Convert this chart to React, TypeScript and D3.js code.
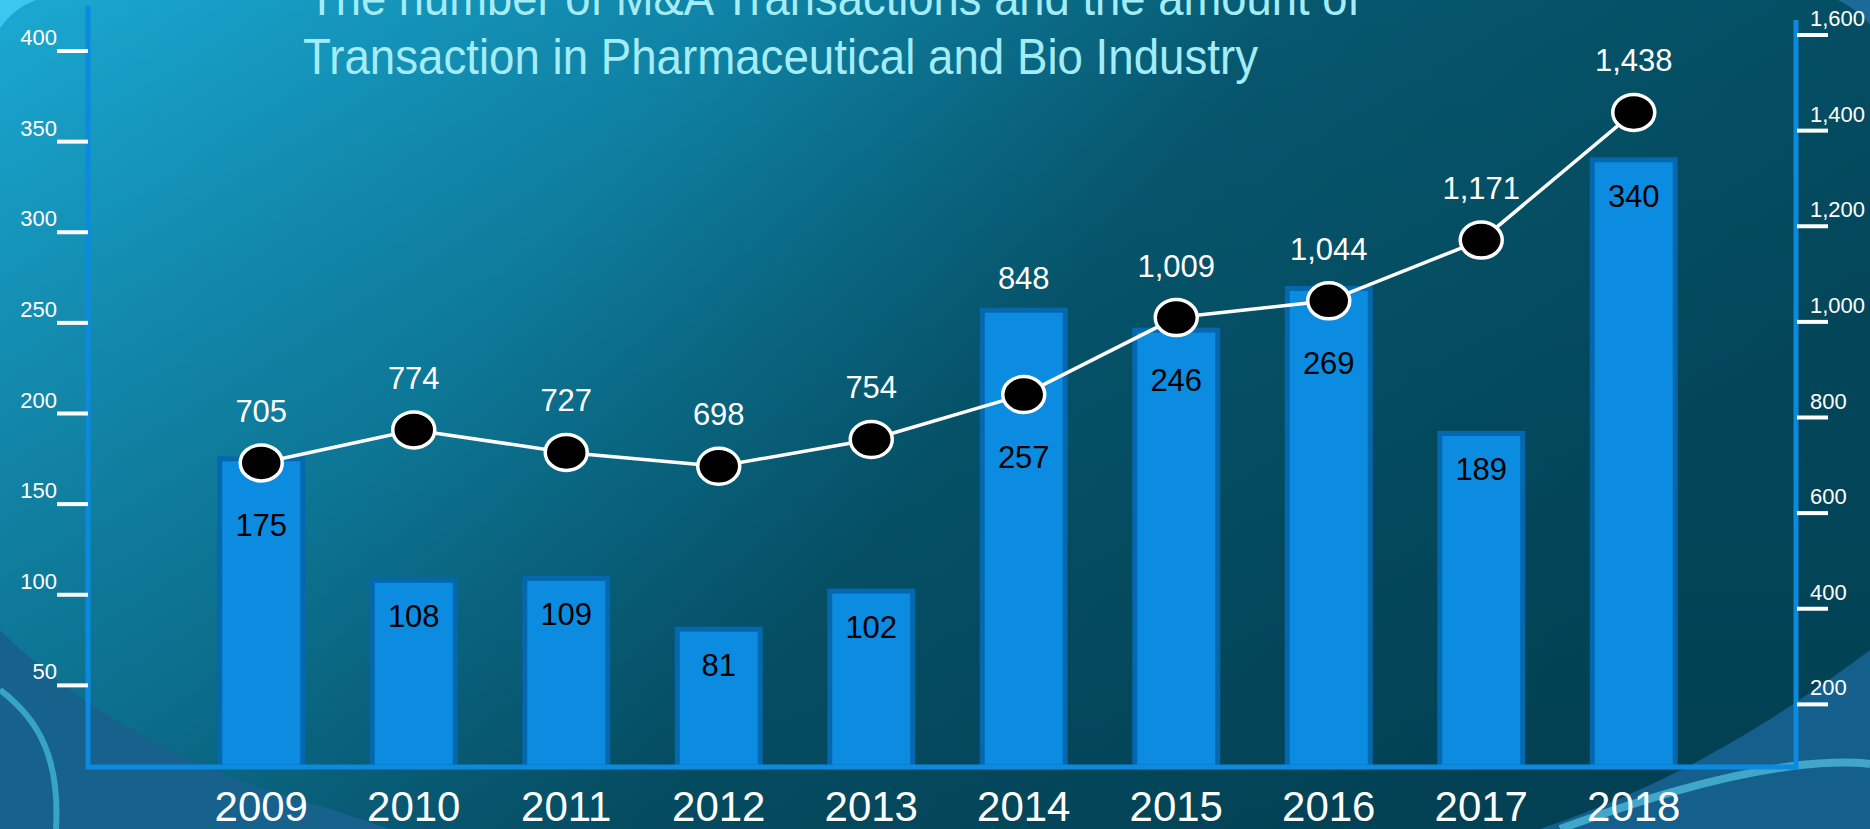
import React from "react";
import * as d3 from "d3";

const years = ["2009", "2010", "2011", "2012", "2013", "2014", "2015", "2016", "2017", "2018"];
// number of M&A transactions (bars, left axis)
const dealCounts = [175, 108, 109, 81, 102, 257, 246, 269, 189, 340];
// amount of transactions (line, right axis)
const dealAmounts = [705, 774, 727, 698, 754, 848, 1009, 1044, 1171, 1438];
const leftTicks = [50, 100, 150, 200, 250, 300, 350, 400];
const rightTicks = [200, 400, 600, 800, 1000, 1200, 1400, 1600];
const titleLines = [
  "The number of M&A Transactions and the amount of",
  "Transaction in Pharmaceutical and Bio Industry",
];

const W = 1870;
const H = 829;
const FONT = "'Liberation Sans', Arial, sans-serif";
const BASE = 767; // x-axis line

export default function App() {
  const x = d3
    .scaleBand<string>()
    .domain(years)
    .range([185, 1710])
    .paddingInner(0.456)
    .paddingOuter(0.228);
  const yLeft = d3.scaleLinear().domain([0, 400]).range([776, 51]);
  const yRight = d3.scaleLinear().domain([0, 1600]).range([800, 35]);
  const fmt = d3.format(",");

  const cx = (yr: string) => (x(yr) ?? 0) + x.bandwidth() / 2;

  const line = d3
    .line<number>()
    .x((_, i) => cx(years[i]))
    .y((d) => yRight(d));

  const axisColor = "#0b8ae0";

  return (
    <svg
      width={W}
      height={H}
      style={{ position: "absolute", left: 0, top: 0, display: "block" }}
      fontFamily={FONT}
    >
      <defs>
        <linearGradient id="bg" x1="0" y1="0" x2="1" y2="0.35">
          <stop offset="0" stopColor="#1aa9d3" />
          <stop offset="0.35" stopColor="#0f84a6" />
          <stop offset="0.62" stopColor="#06586f" />
          <stop offset="1" stopColor="#034a5e" />
        </linearGradient>
        <linearGradient id="shade" x1="0" y1="0" x2="0" y2="1">
          <stop offset="0" stopColor="#002a3a" stopOpacity="0" />
          <stop offset="1" stopColor="#002a3a" stopOpacity="0.3" />
        </linearGradient>
      </defs>

      {/* background */}
      <rect width={W} height={H} fill="url(#bg)" />
      <rect width={W} height={H} fill="url(#shade)" />
      <path d="M0,28 Q14,8 36,0 L0,0 Z" fill="#3cc8ee" />
      <path d="M1838,0 Q1858,10 1870,24 L1870,0 Z" fill="#1b6a98" />
      {/* bottom-left swirl */}
      <path
        d="M0,630 C60,690 160,760 300,800 C340,812 370,822 390,829 L0,829 Z"
        fill="#17618d"
      />
      <path
        d="M0,690 C40,720 60,760 56,829"
        fill="none"
        stroke="#3fb4d6"
        strokeWidth={6}
        opacity={0.8}
      />
      {/* bottom-right swirl */}
      <path
        d="M1870,650 C1830,680 1760,730 1677,772 C1620,800 1580,815 1540,829 L1870,829 Z"
        fill="#145f8c"
      />
      <path
        d="M1560,829 C1640,800 1720,775 1800,765 C1830,762 1855,762 1870,764"
        fill="none"
        stroke="#4cb9da"
        strokeWidth={8}
        opacity={0.8}
      />

      {/* title */}
      <g fill="#a4ecf8" fontSize={50}>
        <text x={308} y={15} textLength={1052} lengthAdjust="spacingAndGlyphs">
          {titleLines[0]}
        </text>
        <text x={303} y={74} textLength={955} lengthAdjust="spacingAndGlyphs">
          {titleLines[1]}
        </text>
      </g>

      {/* bars */}
      {dealCounts.map((v, i) => (
        <rect
          key={years[i]}
          x={x(years[i])}
          y={yLeft(v)}
          width={x.bandwidth()}
          height={BASE - yLeft(v)}
          fill="#0b8ce0"
          stroke="#0567ae"
          strokeWidth={5}
        />
      ))}

      {/* axes */}
      <line x1={88} x2={88} y1={6} y2={BASE + 2} stroke={axisColor} strokeWidth={5} />
      <line x1={1796} x2={1796} y1={20} y2={BASE + 3} stroke={axisColor} strokeWidth={5} />
      <line x1={86} x2={1798} y1={BASE} y2={BASE} stroke={axisColor} strokeWidth={5} />

      {leftTicks.map((t) => (
        <g key={"l" + t}>
          <line x1={57} x2={88} y1={yLeft(t)} y2={yLeft(t)} stroke="#fff" strokeWidth={4} />
          <text x={57} y={yLeft(t) - 6} textAnchor="end" fill="#fff" fontSize={22}>
            {t}
          </text>
        </g>
      ))}
      {rightTicks.map((t) => (
        <g key={"r" + t}>
          <line x1={1797} x2={1828} y1={yRight(t)} y2={yRight(t)} stroke="#fff" strokeWidth={4} />
          <text x={1810} y={yRight(t) - 9} fill="#fff" fontSize={22}>
            {fmt(t)}
          </text>
        </g>
      ))}

      {/* line series */}
      <path d={line(dealAmounts) ?? ""} fill="none" stroke="#fff" strokeWidth={3.5} />
      {dealAmounts.map((v, i) => (
        <ellipse
          key={"m" + i}
          cx={cx(years[i])}
          cy={yRight(v)}
          rx={21}
          ry={18}
          fill="#000"
          stroke="#fff"
          strokeWidth={3.5}
        />
      ))}

      {/* line labels, kept clear of the bar tops */}
      {dealAmounts.map((v, i) => {
        const c = Math.min(yRight(v) - 52, yLeft(dealCounts[i]) - 32);
        return (
          <text
            key={"la" + i}
            x={cx(years[i])}
            y={c + 11}
            textAnchor="middle"
            fill="#fff"
            fontSize={31}
          >
            {fmt(v)}
          </text>
        );
      })}

      {/* bar labels, pushed below the marker when they would collide */}
      {dealCounts.map((v, i) => {
        const my = yRight(dealAmounts[i]);
        let c = yLeft(v) + 36;
        if (Math.abs(c - my) < 50) c = my + 62;
        return (
          <text
            key={"lb" + i}
            x={cx(years[i])}
            y={c + 11}
            textAnchor="middle"
            fill="#000"
            fontSize={31}
          >
            {v}
          </text>
        );
      })}

      {/* year labels */}
      {years.map((yr) => (
        <text key={yr} x={cx(yr)} y={821} textAnchor="middle" fill="#fff" fontSize={42}>
          {yr}
        </text>
      ))}
    </svg>
  );
}
